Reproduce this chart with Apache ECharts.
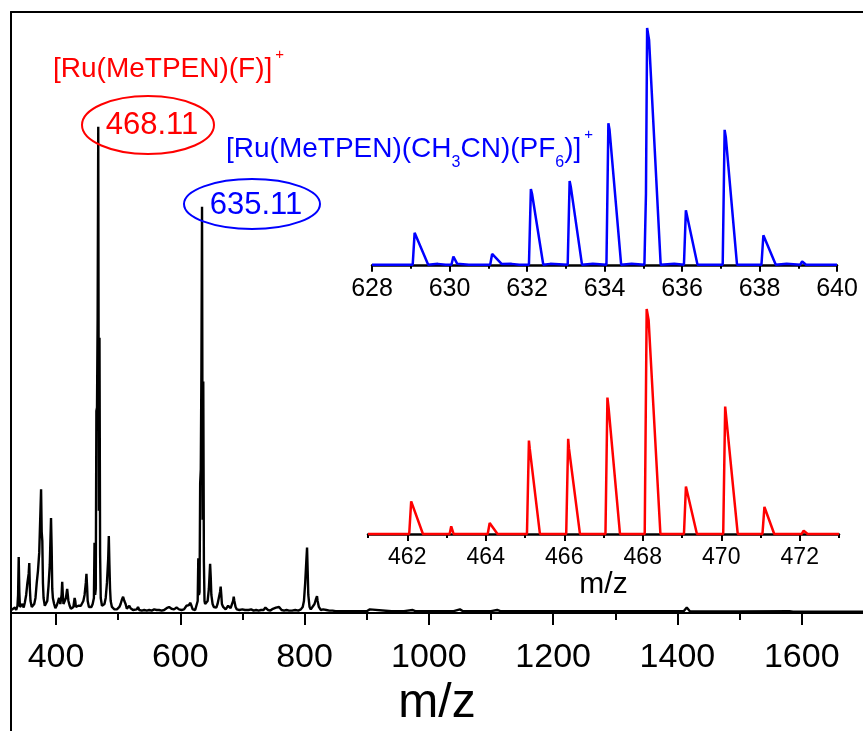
<!DOCTYPE html>
<html>
<head>
<meta charset="utf-8">
<script src="https://cdn.jsdelivr.net/npm/echarts@6/dist/echarts.min.js"></script>
<style>
  html, body { margin: 0; padding: 0; background: #fff; }
  #chart { width: 863px; height: 731px; }
</style>
</head>
<body>
<div id="chart"></div>
<script>
// main spectrum, [m/z, relative intensity]
const mainSpectrum = [
  [328, 0.5], [330, 0.6], [334, 0.9], [336, 0.5], [338, 1.2], [339, 3], [340, 9.3], [341, 3.5], [342, 1],
  [344, 0.8], [346, 1.5], [348, 0.9], [350, 1.8], [352, 3], [354, 5], [356, 6.5], [357, 8.3], [358, 4],
  [359, 2], [361, 1], [363, 0.8], [365, 1.5], [367, 2.5], [369, 5], [371, 7], [373, 10], [374, 13.5],
  [375, 17], [376, 20.6], [377, 13.5], [378, 12], [379, 5], [380, 2.5], [382, 1.2], [384, 1], [386, 2],
  [388, 4.5], [390, 8], [391, 12], [392, 15.8], [393, 11], [394, 4], [395, 2.5], [397, 1.5], [399, 0.8],
  [401, 1.2], [403, 1.8], [405, 2.5], [407, 1.5], [409, 3], [410, 5.2], [411, 3], [412, 1.5], [414, 2],
  [416, 2.5], [418, 4], [419, 3], [420, 2], [422, 1.2], [424, 0.7], [426, 0.8], [428, 1], [430, 2.5],
  [431, 2], [432, 1], [434, 0.8], [436, 1.2], [438, 0.9], [440, 1.2], [442, 1.5], [444, 2], [446, 3],
  [448, 5], [449, 6.5], [450, 4.5], [451, 2], [453, 1], [455, 0.8], [457, 1], [459, 1.5], [461, 2.5],
  [462, 11.7], [463, 3], [464, 4], [465, 33.6], [466, 34.2], [467, 49], [468, 80.9], [469, 17],
  [470, 45.8], [471, 9.7], [472, 2.5], [474, 1.2], [476, 1], [478, 1.5], [480, 2.5], [482, 5], [484, 9],
  [485, 12.8], [486, 8], [487, 4], [488, 2], [490, 1], [492, 0.8], [494, 0.6], [496, 0.9], [498, 0.6],
  [500, 0.8], [502, 1], [504, 1.5], [506, 2.2], [508, 2.7], [510, 2], [512, 1.5], [514, 0.7], [516, 0.6],
  [518, 1.2], [519, 1.3], [520, 0.8], [522, 0.5], [524, 0.5], [526, 0.4], [530, 0.6], [532, 1], [534, 0.5],
  [538, 0.4], [542, 0.5], [546, 0.4], [550, 0.5], [554, 0.4], [558, 0.6], [562, 0.5], [566, 0.5],
  [570, 0.4], [574, 0.5], [578, 0.8], [580, 0.6], [582, 1], [584, 1.2], [586, 0.7], [590, 0.6], [594, 0.9],
  [596, 1], [598, 0.6], [602, 0.5], [606, 0.6], [608, 0.7], [610, 1.2], [612, 1.5], [614, 1.3], [616, 1.7],
  [618, 1.2], [620, 0.6], [622, 0.5], [624, 0.5], [626, 0.8], [628, 2], [629, 9.1], [630, 3], [631, 3.5],
  [632, 21.6], [633, 23.9], [634, 40.4], [635, 67.6], [636, 15.5], [637, 38.5], [638, 8.5], [639, 2],
  [640, 1.5], [642, 1.2], [644, 2], [646, 4], [648, 8.2], [649, 6], [650, 3], [652, 1.5], [654, 1],
  [656, 0.8], [658, 0.9], [660, 1.5], [662, 2.5], [664, 3.5], [665, 4.4], [666, 3], [667, 1.5], [669, 1],
  [671, 0.8], [673, 0.6], [675, 0.8], [677, 1.2], [678, 1.5], [679, 1], [681, 0.8], [683, 1], [685, 2],
  [686, 2.7], [687, 2], [689, 1], [691, 0.6], [695, 0.5], [700, 0.6], [704, 0.5], [707, 0.8], [710, 0.5],
  [714, 0.6], [718, 0.4], [722, 0.5], [726, 0.4], [730, 0.5], [734, 0.5], [737, 0.9], [739, 0.9],
  [741, 0.5], [745, 0.4], [749, 0.7], [752, 1], [754, 0.9], [757, 0.6], [759, 1], [761, 0.9], [763, 0.5],
  [767, 0.4], [771, 0.5], [775, 0.4], [780, 0.4], [785, 0.5], [790, 0.4], [794, 0.6], [797, 1], [799, 2],
  [801, 5], [803, 9], [804, 10.9], [805, 7], [806, 3], [808, 1], [810, 0.6], [813, 0.8], [816, 1.5],
  [818, 2.2], [820, 2.8], [821, 2], [823, 1], [826, 0.5], [830, 0.6], [833, 0.9], [835, 0.5], [840, 0.4],
  [845, 0.4], [850, 0.3], [870, 0.3], [900, 0.3], [905, 0.6], [908, 0.4], [940, 0.3], [960, 0.3],
  [974, 0.5], [978, 0.3], [1020, 0.3], [1040, 0.3], [1050, 0.6], [1055, 0.3], [1100, 0.3], [1110, 0.5],
  [1115, 0.3], [1160, 0.3], [1195, 0.3], [1198, 0.5], [1202, 0.3], [1280, 0.3], [1360, 0.3], [1363, 0.5],
  [1366, 0.3], [1410, 0.3], [1415, 0.9], [1420, 0.3], [1500, 0.25], [1580, 0.3], [1583, 0.5], [1586, 0.2],
  [1700, 0.2]
];

// inset, [Ru(MeTPEN)(CH3CN)(PF6)]+ isotope pattern
const blueSpectrum = [
  [628, 0], [629.05, 0], [629.1, 13.5], [629.45, 0], [629.7, 0.4], [629.9, 0], [630.05, 0], [630.1, 3.5],
  [630.2, 0.4], [630.5, 0], [631.05, 0], [631.1, 4.6], [631.35, 0.3], [631.6, 0.4], [631.8, 0],
  [632.05, 0], [632.1, 32], [632.13, 30], [632.42, 0], [632.6, 0.4], [633.05, 0], [633.1, 35.4],
  [633.13, 33], [633.42, 0], [633.7, 0.4], [634.05, 0], [634.1, 59.8], [634.13, 57], [634.43, 0],
  [634.7, 0.4], [635.03, 0], [635.07, 30], [635.1, 100], [635.15, 95], [635.45, 0], [635.8, 0.4],
  [636.05, 0], [636.1, 23], [636.4, 0], [637.05, 0], [637.1, 57], [637.13, 54], [637.42, 0],
  [638.05, 0], [638.1, 12.5], [638.42, 0], [638.7, 0.4], [639.05, 0], [639.1, 1.4], [639.2, 0], [640, 0]
];

// inset, [Ru(MeTPEN)(F)]+ isotope pattern
const redSpectrum = [
  [461, 0], [462.05, 0], [462.1, 14.5], [462.4, 0], [463.08, 0], [463.12, 3.4], [463.18, 0],
  [464.05, 0], [464.1, 4.9], [464.3, 0], [465.05, 0], [465.1, 41.5], [465.12, 38], [465.38, 0],
  [466.05, 0], [466.1, 42.3], [466.12, 38], [466.4, 0], [467.05, 0], [467.1, 60.6], [467.13, 56],
  [467.42, 0], [468.05, 0], [468.1, 100], [468.15, 95], [468.45, 0], [469.05, 0], [469.1, 21.1],
  [469.38, 0], [470.05, 0], [470.1, 56.6], [470.12, 53], [470.42, 0], [471.05, 0], [471.1, 12],
  [471.35, 0], [472.05, 0], [472.1, 1.5], [472.2, 0], [473, 0]
];

const mainTicks = [400, 600, 800, 1000, 1200, 1400, 1600];
const mainMinorTicks = [500, 700, 900, 1100, 1300, 1500, 1700];
const redTicks = [462, 464, 466, 468, 470, 472];
const redMinorTicks = [461, 463, 465, 467, 469, 471, 473];

const FONT = 'Liberation Sans, Arial, sans-serif';
const RED = '#ff0000';
const BLUE = '#0000ff';

const myChart = echarts.init(document.getElementById('chart'), null, { renderer: 'canvas' });

const plain = (v) => String(v);

const hiddenY = (min, max, gridIndex) => ({
  type: 'value', gridIndex: gridIndex, min: min, max: max,
  axisLine: { show: false }, axisTick: { show: false }, axisLabel: { show: false }, splitLine: { show: false }
});

const option = {
  animation: false,
  backgroundColor: '#ffffff',
  grid: [
    { left: 11, right: 0, top: 12, bottom: 109, outerBoundsMode: 'none' },
    { left: 11, right: 0, top: 12, bottom: 109, outerBoundsMode: 'none' },
    { left: 372, right: 26, top: 28, bottom: 465, outerBoundsMode: 'none' },
    { left: 368, right: 24, top: 309, bottom: 193, outerBoundsMode: 'none' },
    { left: 368, right: 24, top: 309, bottom: 193, outerBoundsMode: 'none' }
  ],
  xAxis: [
    {
      type: 'value', gridIndex: 0, position: 'bottom', min: 327.6, max: 1698.6,
      name: 'm/z', nameLocation: 'middle', nameGap: 55,
      nameTextStyle: { fontSize: 48, color: '#000', fontFamily: FONT },
      axisLine: { show: true, lineStyle: { color: '#000', width: 2 } },
      axisTick: { show: true, inside: false, length: 12, customValues: mainTicks, lineStyle: { color: '#000', width: 2 } },
      axisLabel: { customValues: mainTicks, formatter: plain, margin: 19, fontSize: 34, color: '#000', fontFamily: FONT },
      splitLine: { show: false }
    },
    {
      type: 'value', gridIndex: 0, position: 'top', min: 327.6, max: 1698.6,
      axisLine: { show: true, lineStyle: { color: '#000', width: 2 } },
      axisTick: { show: false }, axisLabel: { show: false }, splitLine: { show: false }
    },
    {
      type: 'value', gridIndex: 1, position: 'bottom', min: 327.6, max: 1698.6,
      axisLine: { show: false },
      axisTick: { show: true, inside: false, length: 7, customValues: mainMinorTicks, lineStyle: { color: '#000', width: 2 } },
      axisLabel: { show: false }, splitLine: { show: false }
    },
    {
      type: 'value', gridIndex: 2, min: 628, max: 640, interval: 2,
      axisLine: { show: true, lineStyle: { color: '#000', width: 2.5 } },
      axisTick: { show: true, inside: false, length: 7, lineStyle: { color: '#000', width: 2 } },
      minorTick: { show: true, splitNumber: 2, length: 4, lineStyle: { color: '#000', width: 2 } },
      axisLabel: { formatter: plain, margin: 11, fontSize: 25, color: '#000', fontFamily: FONT },
      splitLine: { show: false }, minorSplitLine: { show: false }
    },
    {
      type: 'value', gridIndex: 3, min: 461, max: 473,
      name: 'm/z', nameLocation: 'middle', nameGap: 30,
      nameTextStyle: { fontSize: 30, color: '#000', fontFamily: FONT },
      axisLine: { show: true, lineStyle: { color: '#000', width: 2.5 } },
      axisTick: { show: true, inside: false, length: 7, customValues: redTicks, lineStyle: { color: '#000', width: 2 } },
      axisLabel: { customValues: redTicks, formatter: plain, margin: 8, fontSize: 23, color: '#000', fontFamily: FONT },
      splitLine: { show: false }
    },
    {
      type: 'value', gridIndex: 4, min: 461, max: 473,
      axisLine: { show: false },
      axisTick: { show: true, inside: false, length: 4, customValues: redMinorTicks, lineStyle: { color: '#000', width: 2 } },
      axisLabel: { show: false }, splitLine: { show: false }
    }
  ],
  yAxis: [
    {
      type: 'value', gridIndex: 0, min: -1.5, max: 100,
      axisLine: { show: true, lineStyle: { color: '#000', width: 2 } },
      axisTick: { show: false }, axisLabel: { show: false }, splitLine: { show: false }
    },
    hiddenY(-1.5, 100, 1),
    hiddenY(-0.5, 100, 2),
    hiddenY(-1.8, 100, 3),
    hiddenY(-1.8, 100, 4)
  ],
  series: [
    {
      type: 'line', xAxisIndex: 0, yAxisIndex: 0, data: mainSpectrum,
      showSymbol: false, lineStyle: { color: '#000', width: 2.4 }, z: 3
    },
    {
      type: 'line', xAxisIndex: 3, yAxisIndex: 2, data: blueSpectrum,
      showSymbol: false, lineStyle: { color: BLUE, width: 2.5 }, z: 4
    },
    {
      type: 'line', xAxisIndex: 4, yAxisIndex: 3, data: redSpectrum,
      showSymbol: false, lineStyle: { color: RED, width: 2.5 }, z: 4
    }
  ],
  graphic: [
    // y axis line running on below the x axis
    { type: 'line', shape: { x1: 11, y1: 622, x2: 11, y2: 731 }, style: { stroke: '#000', lineWidth: 2 } },
    {
      type: 'text', x: 53, y: 69,
      style: {
        text: '{a|[Ru(MeTPEN)(F)]}{sup|+}',
        verticalAlign: 'middle', align: 'left',
        rich: {
          a: { fontSize: 28, fontFamily: FONT, fill: RED, lineHeight: 43 },
          sup: { fontSize: 15, fontFamily: FONT, fill: RED, lineHeight: 26, verticalAlign: 'top', padding: [0, 0, 0, 3] }
        }
      }
    },
    {
      type: 'ellipse', shape: { cx: 148, cy: 125, rx: 66, ry: 29 },
      style: { fill: null, stroke: RED, lineWidth: 2 }, z: 10
    },
    {
      type: 'text', x: 152, y: 125,
      style: { text: '468.11', fontSize: 31, fontFamily: FONT, fill: RED, align: 'center', verticalAlign: 'middle' }, z: 10
    },
    {
      type: 'text', x: 226, y: 149,
      style: {
        text: '{a|[Ru(MeTPEN)(CH}{sub|3}{a|CN)(PF}{sub|6}{a|)]}{sup|+}',
        verticalAlign: 'middle', align: 'left',
        rich: {
          a: { fontSize: 28, fontFamily: FONT, fill: BLUE, lineHeight: 43 },
          sub: { fontSize: 16, fontFamily: FONT, fill: BLUE, lineHeight: 8, verticalAlign: 'bottom' },
          sup: { fontSize: 15, fontFamily: FONT, fill: BLUE, lineHeight: 34, verticalAlign: 'top', padding: [0, 0, 0, 3] }
        }
      }
    },
    {
      type: 'ellipse', shape: { cx: 252, cy: 204, rx: 68, ry: 25 },
      style: { fill: null, stroke: BLUE, lineWidth: 2 }, z: 10
    },
    {
      type: 'text', x: 256, y: 205,
      style: { text: '635.11', fontSize: 31, fontFamily: FONT, fill: BLUE, align: 'center', verticalAlign: 'middle' }, z: 10
    }
  ]
};

myChart.setOption(option);
</script>
</body>
</html>
